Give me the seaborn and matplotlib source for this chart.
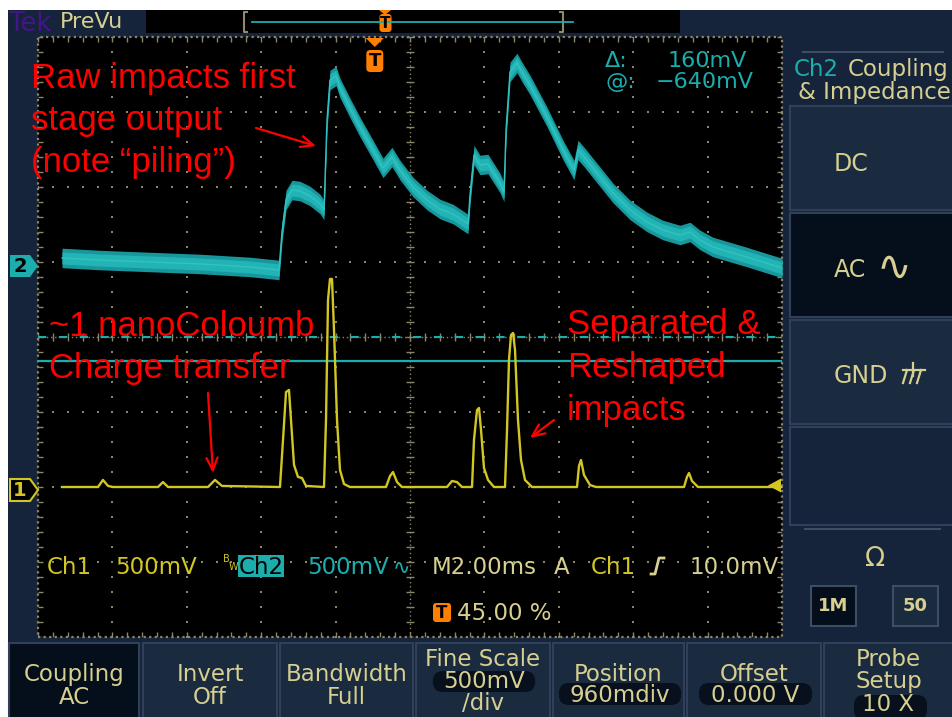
import numpy as np
import pandas as pd
import matplotlib
matplotlib.use("Agg")
import matplotlib.pyplot as plt
import seaborn as sns
from matplotlib.patches import Rectangle, FancyBboxPatch, Polygon, FancyArrowPatch
from matplotlib.collections import LineCollection

# ---------------- acquisition settings ----------------
time_per_div_ms = 2.0
ch1_volts_per_div = 0.5
ch2_volts_per_div = 0.5
ch1_position_div = -2.0
ch2_position_div = 0.96
trigger_position_pct = 45.0
trigger_level_v = 0.010
cursor_a_v = -0.48
cursor_b_v = -0.64

# ---------------- Ch1: separated & reshaped pulses ----------------
ch1_time_ms = [0.645, 1.613, 1.747, 1.882, 2.016, 3.226, 3.360, 3.495, 4.570, 4.758, 4.946,
               6.505, 6.586, 6.667, 6.747, 6.801, 6.882, 6.989, 7.097, 7.204,
               7.688, 7.742, 7.796, 7.849, 7.903, 7.957, 8.038, 8.118, 8.226, 8.387,
               9.355, 9.462, 9.543, 9.651, 9.785,
               10.995, 11.129, 11.263, 11.398,
               11.667, 11.720, 11.801, 11.855, 11.909, 11.989, 12.097, 12.258,
               12.554, 12.608, 12.661, 12.715, 12.769, 12.823, 12.903, 12.984, 13.091, 13.280,
               14.489, 14.543, 14.597, 14.677, 14.839, 15.000,
               17.366, 17.446, 17.500, 17.581, 17.742,
               20.0]
ch1_volts = [0, 0, 0.047, 0.007, 0, 0, 0.033, 0, 0, 0.047, 0.007,
             0, 0.313, 0.633, 0.647, 0.447, 0.147, 0.067, 0.060, 0.007,
             0, 0.447, 1.247, 1.387, 1.387, 1.047, 0.447, 0.113, 0.020, 0,
             0, 0.073, 0.100, 0.033, 0,
             0, 0.040, 0.033, 0,
             0, 0.313, 0.513, 0.527, 0.380, 0.127, 0.047, 0,
             0, 0.380, 0.847, 1.013, 1.027, 0.913, 0.447, 0.180, 0.047, 0,
             0, 0.140, 0.180, 0.080, 0.013, 0,
             0, 0.067, 0.093, 0.040, 0,
             0]

# ---------------- Ch2: raw first stage output (band centre) ----------------
ch2_time_ms = [0.645, 1.667, 3.011, 4.355, 5.699, 6.478, 6.559, 6.667, 6.828, 7.043, 7.312, 7.581, 7.688,
               7.715, 7.769, 7.849, 8.011, 8.118, 8.387, 8.656, 9.005, 9.274, 9.516, 9.731, 10.081,
               10.457, 10.806, 11.156, 11.559,
               11.613, 11.720, 11.882, 12.097, 12.419, 12.527,
               12.581, 12.688, 12.876, 13.011, 13.226, 13.683, 14.113, 14.409, 14.516, 14.704, 15.027,
               15.457, 15.914, 16.371, 16.801, 17.258, 17.527, 17.796, 18.145, 19.059, 20.0]
ch2_volts = [0.047, 0.033, 0.020, 0.007, -0.013, -0.033, 0.220, 0.433, 0.500, 0.493, 0.460, 0.407, 0.367,
             0.567, 0.967, 1.233, 1.260, 1.180, 1.047, 0.920, 0.767, 0.647, 0.720, 0.633, 0.520,
             0.433, 0.373, 0.340, 0.273,
             0.467, 0.733, 0.667, 0.673, 0.547, 0.487,
             0.900, 1.287, 1.347, 1.287, 1.200, 0.987, 0.767, 0.633, 0.767, 0.713, 0.613,
             0.480, 0.367, 0.287, 0.233, 0.200, 0.220, 0.167, 0.120, 0.053, -0.020]
ch2_noise_core_v = 0.04
ch2_noise_peak_v = 0.065

# ---------------- colours ----------------
NAVY = "#15243a"
BTN = "#1a2a3f"
BTN_EDGE = "#2f4058"
BTN_SEL = "#050e1b"
KHAKI = "#d6cf90"
CYAN = "#1cadad"
CYAN_EDGE = "#17979c"
CYAN_CORE = "#22b4b4"
CYAN_HI = "#32c2c2"
YELLOW = "#d2c623"
ORANGE = "#ff7f00"
GRID = "#8b866a"
RED = "#ff0000"

W, H = 953, 717
fig = plt.figure(figsize=(W / 100, H / 100), dpi=100, facecolor="white")

# background chrome in pixel coordinates
bg = fig.add_axes([0, 0, 1, 1], zorder=0)
bg.set_xlim(0, W)
bg.set_ylim(H, 0)
bg.axis("off")

bg.add_patch(Rectangle((8, 10), W - 8, H - 10, fc=NAVY, ec="none"))
bg.add_patch(Rectangle((146, 10), 534, 23, fc="black", ec="none"))

# right-hand side menu
bg.plot([803, 943], [52, 52], color="#3d4d62", lw=1.5)
for y0, h, fc in [(106, 104, BTN), (213, 104, BTN_SEL), (320, 104, BTN), (427, 98, NAVY)]:
    bg.add_patch(Rectangle((790, y0), 163, h, fc=fc, ec=BTN_EDGE, lw=1.5))
bg.plot([805, 940], [529, 529], color="#3d4d62", lw=1.5)
bg.add_patch(Rectangle((811, 586), 45, 40, fc=BTN_SEL, ec="#3d4d62", lw=1.5))
bg.add_patch(Rectangle((893, 586), 45, 40, fc=BTN, ec="#3d4d62", lw=1.5))

# bottom menu
bottom_buttons = [(9, 139), (143, 277), (280, 413), (416, 550), (553, 684), (687, 821), (824, 953)]
for i, (x0, x1) in enumerate(bottom_buttons):
    bg.add_patch(Rectangle((x0, 643), x1 - x0, 80, fc=BTN_SEL if i == 0 else BTN,
                           ec=BTN_EDGE, lw=1.5))
for (x0, y0, x1, y1) in [(433, 671, 535, 692), (559, 683, 681, 705), (699, 683, 812, 705), (854, 695, 927, 720)]:
    bg.add_patch(FancyBboxPatch((x0, y0), x1 - x0, y1 - y0,
                                boxstyle="round,pad=0,rounding_size=10", fc="#07101c", ec="none"))

# ---------------- graticule ----------------
ax = fig.add_axes([38 / W, (H - 637) / H, 744 / W, 600 / H], zorder=2)
ax.set_facecolor("black")
ax.set_xlim(0, 10)
ax.set_ylim(-4, 4)
for s in ax.spines.values():
    s.set_visible(False)
ax.set_xticks([])
ax.set_yticks([])

minor_x = np.round(np.arange(0, 10.001, 0.2), 3)
minor_y = np.round(np.arange(-4, 4.001, 0.2), 3)
gx_pts, gy_pts = [], []
for gx in range(1, 10):
    if gx == 5:
        continue
    gx_pts += [gx] * len(minor_y)
    gy_pts += list(minor_y)
for gy in range(-3, 4):
    if gy == 0:
        continue
    gx_pts += list(minor_x)
    gy_pts += [gy] * len(minor_x)
ax.plot(gx_pts, gy_pts, ls="none", marker="s", ms=1.5, mew=0, color=GRID, zorder=1)

# centre cross and frame: fine dotted lines with minor ticks
ax.plot([5, 5], [-4, 4], ls=(0, (1, 2)), lw=1, color=GRID, zorder=1)
ax.plot([0, 10], [0, 0], ls=(0, (1, 2)), lw=1, color=GRID, zorder=1)
ax.plot([0, 10, 10, 0, 0], [-4, -4, 4, 4, -4], ls=(0, (1, 1.5)), lw=1.6, color=GRID, zorder=1,
        clip_on=False)
segs = []
for my in minor_y:
    segs.append([(5 - 0.05, my), (5 + 0.05, my)])
    segs.append([(0, my), (0.07, my)])
    segs.append([(10 - 0.07, my), (10, my)])
for mx in minor_x:
    segs.append([(mx, -0.05), (mx, 0.05)])
    segs.append([(mx, 4), (mx, 4 - 0.07)])
    segs.append([(mx, -4), (mx, -4 + 0.07)])
ax.add_collection(LineCollection(segs, colors=GRID, linewidths=1, zorder=1))

# cursors on Ch2
cur_a = cursor_a_v / ch2_volts_per_div + ch2_position_div
cur_b = cursor_b_v / ch2_volts_per_div + ch2_position_div
ax.axhline(cur_a, color=CYAN, lw=1.5, ls=(0, (4, 6)), zorder=2)
ax.axhline(cur_b, color=CYAN, lw=1.6, zorder=2)

# ---------------- traces ----------------
ch2 = pd.DataFrame({
    "t_div": np.array(ch2_time_ms) / time_per_div_ms,
    "y_div": np.array(ch2_volts) / ch2_volts_per_div + ch2_position_div,
})
core = ch2_noise_core_v / ch2_volts_per_div
peak = ch2_noise_peak_v / ch2_volts_per_div
ax.fill_between(ch2["t_div"], ch2["y_div"] - peak, ch2["y_div"] + peak, color=CYAN_EDGE,
                lw=0, zorder=3)
ax.fill_between(ch2["t_div"], ch2["y_div"] - core, ch2["y_div"] + core, color=CYAN_CORE,
                lw=0, zorder=3)
sns.lineplot(data=ch2, x="t_div", y="y_div", ax=ax, color=CYAN_HI, lw=1.0,
             estimator=None, sort=False, zorder=4)

ch1 = pd.DataFrame({
    "t_div": np.array(ch1_time_ms) / time_per_div_ms,
    "y_div": np.array(ch1_volts) / ch1_volts_per_div + ch1_position_div,
})
sns.lineplot(data=ch1, x="t_div", y="y_div", ax=ax, color=YELLOW, lw=1.7,
             estimator=None, sort=False, zorder=5)
ax.set_xlabel("")
ax.set_ylabel("")
ax.set_xlim(0, 10)
ax.set_ylim(-4, 4)

# ---------------- overlay: readouts, markers, notes ----------------
ov = fig.add_axes([0, 0, 1, 1], zorder=5)
ov.set_xlim(0, W)
ov.set_ylim(H, 0)
ov.axis("off")
ov.patch.set_alpha(0)

SANS = "DejaVu Sans"


def txt(x, y, s, color=KHAKI, size=16.5, ha="left", va="baseline", **kw):
    ov.text(x, y, s, color=color, fontsize=size, ha=ha, va=va, family=SANS, **kw)


# top bar
txt(9, 31, "Tek", color="#431588", size=18.5)
txt(60, 28, "PreVu", size=16)
ov.plot([247, 244, 244, 247], [12, 12, 32, 32], color="#8f8a6a", lw=1.5)
ov.plot([560, 563, 563, 560], [12, 12, 32, 32], color="#8f8a6a", lw=1.5)
ov.plot([252, 573], [22, 22], color=CYAN, lw=1.3)
ov.add_patch(Polygon([(379, 10), (391, 10), (385, 15)], closed=True, fc=ORANGE, ec="none"))
ov.add_patch(FancyBboxPatch((379.5, 14), 12, 18, boxstyle="round,pad=0,rounding_size=3",
                            fc=ORANGE, ec="none"))
txt(385.5, 23.5, "T", color="black", size=11, ha="center", va="center", weight="bold")

# trigger position marker
trig_x = 38 + 744 * trigger_position_pct / 100 + 2
ov.add_patch(Polygon([(trig_x - 9, 38), (trig_x + 9, 38), (trig_x, 47)], closed=True,
                     fc=ORANGE, ec="none"))
ov.add_patch(FancyBboxPatch((trig_x - 8.5, 50), 17, 22, boxstyle="round,pad=0,rounding_size=4",
                            fc=ORANGE, ec="none"))
txt(trig_x, 61, "T", color="black", size=13, ha="center", va="center", weight="bold")

# channel markers
ov.add_patch(Polygon([(10, 255), (30, 255), (38, 266), (30, 277), (10, 277)], closed=True,
                     fc=CYAN, ec="none"))
txt(20, 266, "2", color="black", size=14, ha="center", va="center", weight="bold")
ov.add_patch(Polygon([(10, 479), (30, 479), (38, 490), (30, 501), (10, 501)], closed=True,
                     fc="black", ec=YELLOW, lw=1.5))
txt(20, 490, "1", color=YELLOW, size=14, ha="center", va="center", weight="bold")
trig_y = 637 - 75 * (4 + trigger_level_v / ch1_volts_per_div + ch1_position_div)
ov.add_patch(Polygon([(768, trig_y), (781, trig_y - 7), (781, trig_y + 7)], closed=True,
                     fc=YELLOW, ec="none"))

# cursor readout
txt(605, 67, "Δ:", color=CYAN, size=16)
txt(668, 67, "160mV", color=CYAN, size=16)
txt(606, 88, "@:", color=CYAN, size=16)
txt(656, 88, "−640mV", color=CYAN, size=16)

# status line
txt(47, 574, "Ch1", color=YELLOW)
txt(115, 574, "500mV", color=YELLOW)
txt(223, 562, "B", color=YELLOW, size=7)
txt(229, 570, "W", color=YELLOW, size=7)
ov.add_patch(Rectangle((238, 555), 46, 22, fc=CYAN, ec="none"))
txt(261, 574, "Ch2", color="black", ha="center")
txt(307, 574, "500mV", color=CYAN)
txt(393, 574, "∿", color=CYAN, size=15)
txt(432, 574, "M2.00ms", color=KHAKI)
txt(554, 574, "A", color=KHAKI)
txt(591, 574, "Ch1", color=YELLOW)
ov.plot([651, 655, 659, 664], [574, 574, 558, 558], color=KHAKI, lw=2)
txt(689, 574, "10.0mV", color=KHAKI)
ov.add_patch(FancyBboxPatch((433, 603), 18, 19, boxstyle="round,pad=0,rounding_size=3",
                            fc=ORANGE, ec="none"))
txt(442, 613, "T", color="black", size=12, ha="center", va="center", weight="bold")
txt(457, 620, "45.00 %", color=KHAKI)

# right menu text
txt(794, 76, "Ch2", color=CYAN, size=16.5)
txt(848, 76, "Coupling", color=KHAKI, size=16.5)
txt(798, 99, "& Impedance", color=KHAKI, size=16.5)
txt(834, 171, "DC", size=17)
txt(834, 277, "AC", size=17)
txt(894, 268, "∿", size=30, ha="center", va="center")
txt(834, 383, "GND", size=17)
ov.plot([913, 913], [363, 376], color=KHAKI, lw=1.6)
ov.plot([903, 925], [370, 370], color=KHAKI, lw=1.6)
for hx in (907, 914, 921):
    ov.plot([hx, hx - 4], [370, 383], color=KHAKI, lw=1.6)
txt(875, 566, "Ω", size=19, ha="center")
txt(833.5, 606, "1M", size=13, ha="center", va="center", weight="bold")
txt(915.5, 606, "50", size=13, ha="center", va="center", weight="bold")

# bottom menu text
centres = [(a + b) / 2 for a, b in bottom_buttons]
two_line = [(0, "Coupling", "AC"), (1, "Invert", "Off"), (2, "Bandwidth", "Full")]
for i, a, b in two_line:
    txt(centres[i], 681, a, ha="center")
    txt(centres[i], 704, b, ha="center")
txt(centres[3], 666, "Fine Scale", ha="center")
txt(centres[3] + 1, 688, "500mV", ha="center")
txt(centres[3], 710, "/div", ha="center")
txt(centres[4], 681, "Position", ha="center")
txt(centres[4] + 1, 702, "960mdiv", ha="center")
txt(centres[5], 681, "Offset", ha="center")
txt(centres[5] + 1, 702, "0.000 V", ha="center")
txt(centres[6], 666, "Probe", ha="center")
txt(centres[6], 688, "Setup", ha="center")
txt(centres[6], 711, "10 X", ha="center")

# red notes
note = dict(color=RED, fontsize=25, family="Liberation Sans", ha="left", va="baseline")
for y, s in [(88, "Raw impacts first"), (130, "stage output"), (172, "(note “piling”)")]:
    ov.text(31, y, s, **note)
for y, s in [(336, "~1 nanoColoumb"), (378, "Charge transfer")]:
    ov.text(49, y, s, **note)
for y, s in [(334, "Separated &"), (377, "Reshaped"), (420, "impacts")]:
    ov.text(567, y, s, **note)
for (x0, y0), (x1, y1) in [((256, 128), (316, 146)), ((208, 393), (213, 473)),
                           ((554, 420), (530, 438))]:
    ov.add_patch(FancyArrowPatch((x0, y0), (x1, y1), arrowstyle="->,head_length=9,head_width=4",
                                 color=RED, lw=1.6, shrinkA=0, shrinkB=0))

fig.savefig("out.png", dpi=100, facecolor="white")
